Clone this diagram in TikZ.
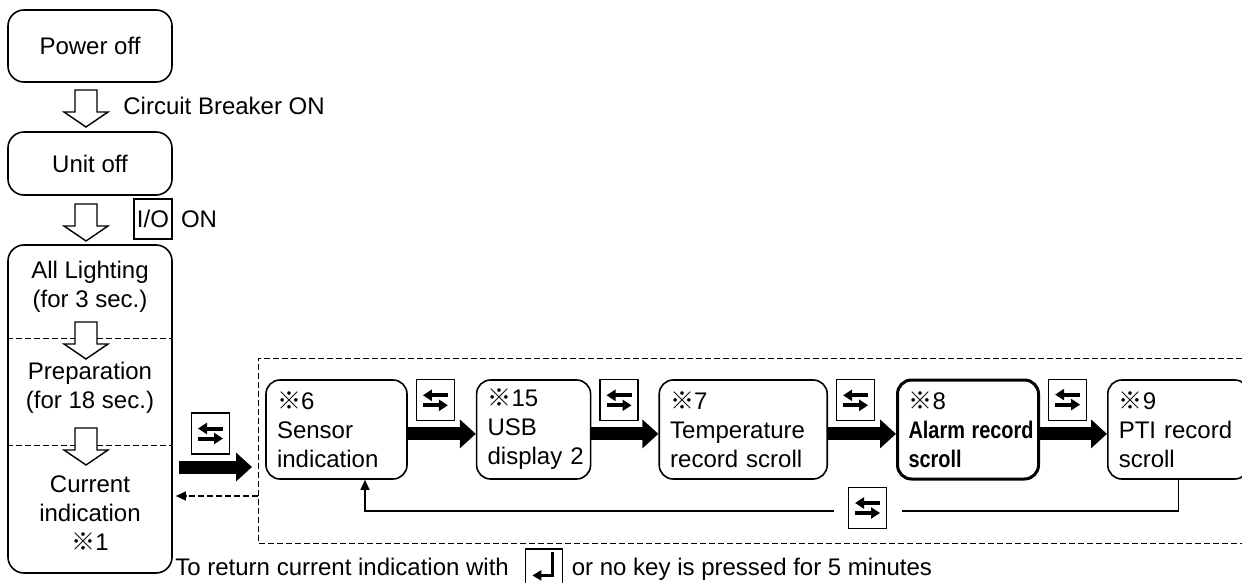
\documentclass[tikz,border=0pt]{standalone}
\usepackage{fontspec}
\setmainfont{Liberation Sans}
\newfontfamily\cjkfont{Noto Sans CJK JP}
\usepackage{graphicx}
\usetikzlibrary{arrows.meta,positioning,calc}

\newcommand{\refmark}{{\cjkfont ※}}
\newcommand{\narrowbf}[1]{\textbf{\scalebox{0.83}[1]{#1}}}

\tikzset{
  every node/.style={font=\fontsize{12}{14.5}\selectfont},
  note/.style={inner sep=0pt},
  state/.style={draw, rounded corners=8pt, line width=0.8pt, minimum width=82pt, align=center, inner sep=0pt},
  mode/.style={draw, rounded corners=7pt, line width=0.8pt, minimum height=49.5pt,
    text width=#1, align=left, inner xsep=5.5pt, inner ysep=0pt},
  keybox/.style={draw, line width=0.6pt, minimum width=19pt, minimum height=20.5pt, inner sep=0pt},
  keyarrow/.style={line width=2pt, -{Triangle[width=5.5pt,length=4.5pt]}},
  swapkey/.style={keybox, path picture={
      \draw[keyarrow] ([shift={(6.25pt,2.5pt)}]path picture bounding box.center) -- ++(-12.5pt,0);
      \draw[keyarrow] ([shift={(-6.25pt,-2.5pt)}]path picture bounding box.center) -- ++(12.5pt,0);}},
  enterkey/.style={keybox, path picture={
      \draw[line width=1.5pt, line join=miter, -{Triangle[width=5pt,length=4.5pt]}]
        ([shift={(4pt,7pt)}]path picture bounding box.center) -- ++(0,-11.5pt) -- ++(-10pt,0);}},
  bigarrow/.style={line width=6.5pt, -{Triangle[width=14pt,length=8pt]}},
  sepline/.style={line width=0.5pt, dash pattern=on 3pt off 1.5pt},
  frame/.style={line width=0.5pt, dash pattern=on 3pt off 1.5pt},
  retarrow/.style={line width=0.6pt, dash pattern=on 3pt off 1.5pt, -{Triangle[width=4.5pt,length=5pt]}},
  looparrow/.style={line width=0.6pt, -{Triangle[width=4.5pt,length=5pt]}},
  hollowdown/.pic={
    \draw[line width=0.7pt, fill=white, line join=miter]
      (-5.5pt,0) -- (5.5pt,0) -- (5.5pt,-11pt) -- (11pt,-11pt) -- (0,-18.5pt)
      -- (-11pt,-11pt) -- (-5.5pt,-11pt) -- cycle;}
}

\begin{document}
\begin{tikzpicture}[x=0.5pt, y=-0.5pt]
  \useasboundingbox (0,0) rectangle (1242,583);

  % start-up column
  \node[state, minimum height=36pt] (poweroff) at (90,46) {Power off};
  \node[state, minimum height=31.5pt] (unitoff) at (90,163.5) {Unit off};
  \node[state, minimum height=164pt] (startup) at (90,409) {};

  \pic at (86,90) {hollowdown};
  \node[note, anchor=west] (cbon) at (123,106) {Circuit Breaker ON};
  \pic at (86,204) {hollowdown};
  \node[keybox, minimum height=20pt] (iokey) at (153,219) {I/O};
  \node[note, right=4pt of iokey] (ion) {ON};

  \node[note, align=center] (lighting) at (90,287) {All Lighting\\(for 3 sec.)};
  \node[note, align=center] (prep) at (90,388) {Preparation\\(for 18 sec.)};
  \node[note, align=center] (current) at (90,513) {Current\\indication\\\refmark1};
  \draw[sepline] (startup.west |- 0,338) -- (startup.east |- 0,338);
  \draw[sepline] (startup.west |- 0,445) -- (startup.east |- 0,445);
  \pic at (86,322) {hollowdown};
  \pic at (86,428) {hollowdown};

  % display modes
  \coordinate (frametl) at (258,358);
  \coordinate (framebl) at (258,543);
  \draw[frame] (frametl -| 1242,0) -- (frametl) -- (framebl) -- (framebl -| 1242,0);

  \node[mode=59.5pt] (sensor) at (336.5,429.5) {\refmark6\\Sensor\\indication};
  \node[mode=46pt, right=34pt of sensor] (usb) {\refmark15\\USB\\display~2};
  \node[mode=73pt, right=33.5pt of usb] (temp) {\refmark7\\Temperature\\record scroll};
  \node[mode=59.5pt, line width=1.5pt, right=34pt of temp] (alarm)
    {\refmark8\\\narrowbf{Alarm record}\\\narrowbf{scroll}};
  \node[mode=59.5pt, right=33.5pt of alarm] (pti) {\refmark9\\PTI record\\scroll};

  \foreach \a/\b in {sensor/usb, usb/temp, temp/alarm, alarm/pti} {
    \node[swapkey, anchor=north west] (key\a) at ([xshift=4pt]\a.north east) {};
    \draw[bigarrow] ([yshift=-2.2pt]\a.east) -- ([yshift=-2.2pt]\b.west);
  }

  % into and out of the modes
  \node[swapkey] (swapin) at (210.5,433.5) {};
  \coordinate (modein) at (252,467);
  \draw[bigarrow] ($(startup.east |- modein)+(3pt,0)$) -- (modein);
  \coordinate (retstart) at (258,496);
  \draw[retarrow] (retstart) -- ($(startup.east |- retstart)+(1.5pt,0)$);

  % back to the first mode
  \node[swapkey] (swapback) at (867.5,508) {};
  \coordinate (loopR) at (902,511);
  \coordinate (loopL) at (834,511);
  \coordinate (loopturn) at (365,511);
  \draw[line width=0.6pt] (pti.south) |- (loopR);
  \draw[looparrow] (loopL) -- (loopturn) -- (loopturn |- sensor.south);

  % note
  \node[note, anchor=base west] (returntext) at (175,575) {To return current indication with};
  \node[enterkey, minimum width=18.5pt, minimum height=17.5pt, right=8pt of returntext] (retkey) {};
  \node[note, anchor=base west] (returntext2)
    at ([xshift=4pt]retkey.east |- returntext.base) {or no key is pressed for 5 minutes};
\end{tikzpicture}
\end{document}
